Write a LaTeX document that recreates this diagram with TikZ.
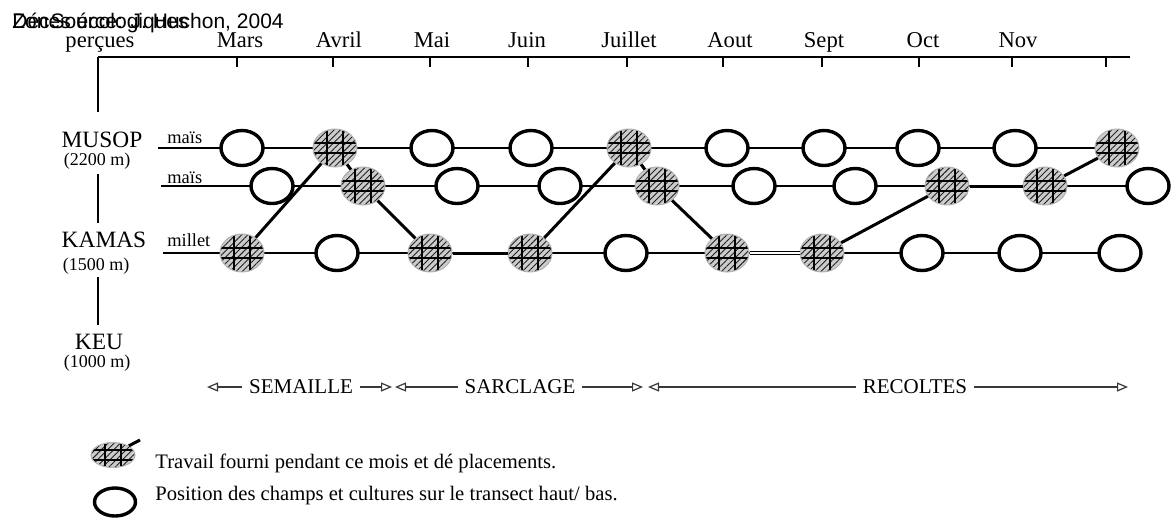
\documentclass[tikz,border=0pt]{standalone}
\usepackage{fontspec}
\setmainfont{Liberation Serif}
\newfontfamily\headfont{Liberation Sans}
\usetikzlibrary{shapes.geometric,arrows.meta,patterns.meta,positioning}

\tikzset{
  field/.style={ellipse, draw, line width=1.7pt, fill=white, minimum width=21pt, minimum height=17.5pt, inner sep=0pt},
  work/.style={ellipse, draw=gray!60, line width=0.5pt, fill=gray!40, minimum width=22pt, minimum height=19pt, inner sep=0pt,
    path picture={
      \fill[pattern={Lines[angle=45,distance=2.2pt,line width=0.45pt]}, pattern color=gray!25!black]
        (path picture bounding box.south west) rectangle (path picture bounding box.north east);
      \draw[black, line width=0.8pt]
        ([shift={(-4pt,12pt)}]path picture bounding box.center) -- ([shift={(-4pt,-12pt)}]path picture bounding box.center)
        ([shift={(4pt,12pt)}]path picture bounding box.center) -- ([shift={(4pt,-12pt)}]path picture bounding box.center)
        ([shift={(-14pt,2.5pt)}]path picture bounding box.center) -- ([shift={(14pt,2.5pt)}]path picture bounding box.center)
        ([shift={(-14pt,-2.5pt)}]path picture bounding box.center) -- ([shift={(14pt,-2.5pt)}]path picture bounding box.center);
    }},
  move/.style={line width=1.5pt},
  rowline/.style={line width=0.6pt},
  axisline/.style={line width=0.6pt},
  month/.style={anchor=base, inner sep=0pt, font=\fontsize{11.3}{13}\selectfont},
  zone/.style={anchor=base, inner sep=0pt, font=\fontsize{11.7}{13}\selectfont},
  alt/.style={anchor=base, inner sep=0pt, font=\fontsize{9}{10}\selectfont},
  crop/.style={anchor=base west, inner sep=0pt, font=\fontsize{9.2}{10}\selectfont},
  topnote/.style={anchor=base west, inner sep=0pt, font=\headfont\fontsize{10.5}{12}\selectfont},
  phase/.style={font=\fontsize{10.5}{12}\selectfont},
  phasearrow/.style={line width=0.6pt, draw=gray!45!black, -{Triangle[open, length=5.5pt, width=4.5pt]}},
  legendtext/.style={anchor=base west, inner sep=0pt, font=\fontsize{10.3}{12}\selectfont}
}

\begin{document}
\begin{tikzpicture}[x=0.5pt, y=-0.5pt]
\useasboundingbox (0,0) rectangle (1171,520);
% en-tete
\node[topnote] (zones) at (12,28) {Zones écologiques};
\node[topnote] (dec) at (12,28) {Déc};
\node[topnote] (source) at (dec.base east) {Source: J. Huchon, 2004};
\node[month] (percues) at (100,47) {perçues};
\node[month] (mars) at (240,47) {Mars};
\node[month] (avril) at (339,47) {Avril};
\node[month] (mai) at (432,47) {Mai};
\node[month] (juin) at (527,47) {Juin};
\node[month] (juillet) at (629,47) {Juillet};
\node[month] (aout) at (730,47) {Aout};
\node[month] (sept) at (824,47) {Sept};
\node[month] (oct) at (923,47) {Oct};
\node[month] (nov) at (1018,47) {Nov};
% axes
\coordinate (orig) at (98,57);
\draw[axisline] (orig) -- (1130,57);
\draw[axisline] (237,57) -- (237,67);
\draw[axisline] (333,57) -- (333,67);
\draw[axisline] (430,57) -- (430,67);
\draw[axisline] (528,57) -- (528,67);
\draw[axisline] (627,57) -- (627,67);
\draw[axisline] (723,57) -- (723,67);
\draw[axisline] (822,57) -- (822,67);
\draw[axisline] (919,57) -- (919,67);
\draw[axisline] (1012,57) -- (1012,67);
\draw[axisline] (1106,57) -- (1106,67);
\draw[axisline] (orig) -- (98,112);
\draw[axisline] (98,174) -- (98,223);
\draw[axisline] (98,277) -- (98,325);
% zones
\node[zone] (musop) at (102,147) {MUSOP};
\node[alt] (musopalt) at (97,165) {(2200 m)};
\node[zone] (kamas) at (104,247) {KAMAS};
\node[alt] (kamasalt) at (96,270) {(1500 m)};
\node[zone] (keu) at (99,349) {KEU};
\node[alt] (keualt) at (97,367) {(1000 m)};
\node[crop] (mais1) at (167,143) {maïs};
\node[crop] (mais2) at (167,183) {maïs};
\node[crop] (millet) at (167,246) {millet};
% transects
\coordinate (ra) at (158,148);
\coordinate (raend) at (1117,148);
\coordinate (rb) at (161,186);
\coordinate (rbend) at (1148,186);
\coordinate (rc) at (163,253);
\coordinate (rcend) at (1120,253);
\draw[rowline] (ra) -- (raend);
\draw[rowline] (rb) -- (rbend);
\draw[rowline] (rc) -- (rcend);
% champs MUSOP
\node[field] (a1) at (242,148){};
\node[work] (a2) at (335,148){};
\node[field] (a3) at (432,148){};
\node[field] (a4) at (531,148){};
\node[work] (a5) at (629,148){};
\node[field] (a6) at (727,148){};
\node[field] (a7) at (824,148){};
\node[field] (a8) at (918,148){};
\node[field] (a9) at (1015,148){};
\node[work] (a10) at (1117,148){};
\node[field] (b1) at (272,186){};
\node[work] (b2) at (363,186){};
\node[field] (b3) at (457,186){};
\node[field] (b4) at (560,186){};
\node[work] (b5) at (657,186){};
\node[field] (b6) at (754,186){};
\node[field] (b7) at (855,186){};
\node[work] (b8) at (947,186){};
\node[work] (b9) at (1045,186){};
\node[field] (b10) at (1148,186){};
% champs KAMAS
\node[work] (c1) at (242,253){};
\node[field] (c2) at (337,253){};
\node[work] (c3) at (430,253){};
\node[work] (c4) at (530,253){};
\node[field] (c5) at (626,253){};
\node[work] (c6) at (727,253){};
\node[work] (c7) at (822,253){};
\node[field] (c8) at (922,253){};
\node[field] (c9) at (1020,253){};
\node[field] (c10) at (1120,253){};
% deplacements
\draw[move] (c1) -- (a2);
\draw[move] (a2) -- (b2);
\draw[move] (b2) -- (c3);
\draw[move] (c3) -- (c4);
\draw[move] (c4) -- (a5);
\draw[move] (a5) -- (b5);
\draw[move] (b5) -- (c6);
\draw[line width=0.6pt, double, double distance=0.9pt] (c6) -- (c7);
\draw[move] (c7) -- (b8);
\draw[move] (b8) -- (b9);
\draw[move] (b9) -- (a10);
% periodes
\coordinate (s0) at (207,387);
\node[phase] (semaille) at (301,387) {SEMAILLE};
\coordinate (s1) at (392,387);
\coordinate (p0) at (395,387);
\node[phase] (sarclage) at (520,387) {SARCLAGE};
\coordinate (p1) at (643,387);
\coordinate (q0) at (648,387);
\node[phase] (recoltes) at (915,387) {RECOLTES};
\coordinate (q1) at (1128,387);
\draw[phasearrow] (semaille) -- (s0);
\draw[phasearrow] (semaille) -- (s1);
\draw[phasearrow] (sarclage) -- (p0);
\draw[phasearrow] (sarclage) -- (p1);
\draw[phasearrow] (recoltes) -- (q0);
\draw[phasearrow] (recoltes) -- (q1);
% legende
\node[work, minimum height=12.5pt] (lwork) at (113,455){};
\coordinate (ltail) at (140,440);
\draw[move] (lwork.north east) -- (ltail);
\node[legendtext] (ltext1) at (155,468) {Travail fourni pendant ce mois et dé placements.};
\node[field, minimum width=20.5pt, minimum height=14pt] (lfield) at (115,502){};
\node[legendtext] (ltext2) at (155,500) {Position des champs et cultures sur le transect haut/ bas.};
\end{tikzpicture}
\end{document}
